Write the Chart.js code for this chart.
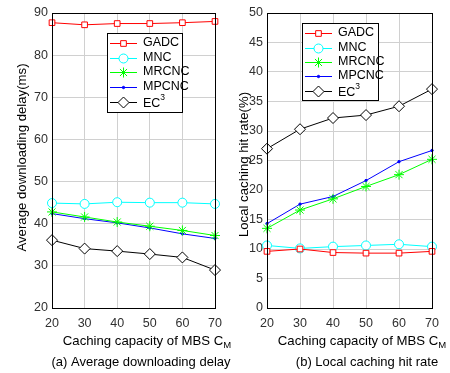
<!DOCTYPE html>
<html>
<head>
<meta charset="utf-8">
<script src="https://cdn.jsdelivr.net/npm/chart.js@4"></script>
<style>
  body { margin: 0; background: #fff; }
  .pane { position: absolute; top: 0; height: 373px; }
  canvas { display: block; }
</style>
</head>
<body>
<div class="pane" style="left:0;width:245px"><canvas id="delayChart" width="245" height="373"></canvas></div>
<div class="pane" style="left:225px;width:225px"><canvas id="hitChart" width="225" height="373"></canvas></div>
<script>
const capacity = ['20', '30', '40', '50', '60', '70'];
const methods = ['GADC', 'MNC', 'MRCNC', 'MPCNC', 'EC3'];

// (a) average downloading delay (ms)
const delayGADC  = [87.7, 87.2, 87.5, 87.5, 87.7, 88.0];
const delayMNC   = [44.9, 44.7, 45.1, 45.0, 45.0, 44.7];
const delayMRCNC = [42.8, 41.6, 40.4, 39.4, 38.4, 37.2];
const delayMPCNC = [42.4, 41.2, 40.2, 39.0, 37.6, 36.5];
const delayEC3   = [36.1, 34.1, 33.5, 32.8, 32.0, 29.0];

// (b) local caching hit rate (%)
const hitGADC  = [9.6, 10.0, 9.4, 9.3, 9.3, 9.6];
const hitMNC   = [10.6, 10.1, 10.4, 10.6, 10.8, 10.4];
const hitMRCNC = [13.5, 16.6, 18.5, 20.6, 22.6, 25.2];
const hitMPCNC = [14.3, 17.6, 18.9, 21.6, 24.8, 26.7];
const hitEC3   = [27.0, 30.3, 32.2, 32.7, 34.2, 37.1];

const delayTicks = [20, 90, 10];
const hitTicks = [0, 50, 5];

const FONT = "'Liberation Sans', Arial, sans-serif";
const styles = [
  { color: '#ff0000', pointStyle: 'rect', radius: 4, fill: '#ffffff' },
  { color: '#00ffff', pointStyle: 'circle', radius: 4.5, fill: '#ffffff' },
  { color: '#00ff00', pointStyle: 'star', radius: 5, fill: '#ffffff' },
  { color: '#0000ff', pointStyle: 'circle', radius: 1.2, fill: '#0000ff' },
  { color: '#000000', pointStyle: 'rectRot', radius: 5.5, fill: '#ffffff' }
];

function buildDatasets(series) {
  return series.map((vals, i) => ({
    label: methods[i],
    data: vals,
    borderColor: styles[i].color,
    backgroundColor: styles[i].fill,
    pointStyle: styles[i].pointStyle,
    pointRadius: styles[i].radius,
    pointBorderColor: styles[i].color,
    pointBackgroundColor: styles[i].fill,
    pointBorderWidth: 1,
    borderWidth: 1,
    tension: 0
  }));
}

function drawSubText(ctx, main, sub, x, y, size, shift) {
  ctx.font = size + 'px ' + FONT;
  const w1 = ctx.measureText(main).width;
  ctx.font = (size * 0.72) + 'px ' + FONT;
  const w2 = ctx.measureText(sub).width;
  const start = x - (w1 + w2) / 2;
  ctx.textAlign = 'left';
  ctx.font = size + 'px ' + FONT;
  ctx.fillText(main, start, y);
  ctx.font = (size * 0.72) + 'px ' + FONT;
  ctx.fillText(sub, start + w1, y + shift);
}

const deco = {
  id: 'deco',
  afterDraw(chart, args, o) {
    const ctx = chart.ctx;
    const a = chart.chartArea;
    ctx.save();
    // axes box
    ctx.strokeStyle = '#000';
    ctx.lineWidth = 1;
    ctx.strokeRect(Math.round(a.left) + 0.5, Math.round(a.top) + 0.5,
                   Math.round(a.right - a.left), Math.round(a.bottom - a.top));

    // legend
    const L = o.legend;
    ctx.fillStyle = '#fff';
    ctx.fillRect(L.x, L.y, L.w, L.h);
    ctx.strokeRect(L.x + 0.5, L.y + 0.5, L.w, L.h);
    chart.data.datasets.forEach((ds, i) => {
      const y = L.rows[i];
      ctx.strokeStyle = ds.borderColor;
      ctx.lineWidth = 1;
      ctx.beginPath();
      ctx.moveTo(L.x + 3, y + 0.5);
      ctx.lineTo(L.x + 30, y + 0.5);
      ctx.stroke();
      ctx.fillStyle = ds.pointBackgroundColor;
      Chart.helpers.drawPoint(ctx, {
        pointStyle: ds.pointStyle, radius: ds.pointRadius, borderWidth: 1, rotation: 0
      }, L.x + 16.5, y + 0.5);
      ctx.fillStyle = '#000';
      ctx.textBaseline = 'middle';
      ctx.textAlign = 'left';
      ctx.font = '12.5px ' + FONT;
      if (ds.label === 'EC3') {
        ctx.fillText('EC', L.x + 36, y + 2);
        const w = ctx.measureText('EC').width;
        ctx.font = '8.5px ' + FONT;
        ctx.fillText('3', L.x + 36 + w, y - 4);
      } else {
        ctx.fillText(ds.label, L.x + 36, y);
      }
    });

    // axis titles
    ctx.fillStyle = '#000';
    ctx.textBaseline = 'middle';
    ctx.save();
    ctx.translate(o.yTitleX, (a.top + a.bottom) / 2 + o.yTitleDy);
    ctx.rotate(-Math.PI / 2);
    ctx.textAlign = 'center';
    ctx.font = '13.2px ' + FONT;
    ctx.fillText(o.yTitle, 0, 0);
    ctx.restore();

    drawSubText(ctx, 'Caching capacity of MBS C', 'M', o.xTitleX, 341, 13.2, 4);

    ctx.textAlign = 'center';
    ctx.font = '13px ' + FONT;
    ctx.fillText(o.caption, o.captionX, 362);
    ctx.restore();
  }
};

function makeChart(id, series, ticks, pad, deco) {
  return new Chart(document.getElementById(id), {
    type: 'line',
    data: { labels: capacity, datasets: buildDatasets(series) },
    plugins: [deco],
    options: {
      responsive: false,
      animation: false,
      layout: { padding: { top: 13, right: pad.right, left: 0, bottom: 0 } },
      scales: {
        x: {
          offset: false,
          grid: { color: '#d0d0d0', drawTicks: false, offset: false },
          border: { display: false },
          ticks: { color: '#303030', padding: 8, font: { family: FONT, size: 12.5 } },
          afterFit(s) { s.height = 65; }
        },
        y: {
          min: ticks[0], max: ticks[1],
          grid: { color: '#d0d0d0', drawTicks: false },
          border: { display: false },
          ticks: { stepSize: ticks[2], color: '#303030', padding: 4, font: { family: FONT, size: 12.5 } },
          afterFit(s) { s.width = pad.left; }
        }
      },
      plugins: { legend: { display: false }, tooltip: { enabled: false }, deco: deco.opts }
    }
  });
}

makeChart('delayChart',
  [delayGADC, delayMNC, delayMRCNC, delayMPCNC, delayEC3],
  delayTicks, { left: 52, right: 30 },
  Object.assign({}, deco, { opts: {
    legend: { x: 107, y: 33, w: 75, h: 79, rows: [43, 58, 72, 87, 102] },
    yTitle: 'Average downloading delay(ms)', yTitleX: 22, yTitleDy: -3,
    xTitleX: 147, caption: '(a) Average downloading delay', captionX: 141
  }}));

makeChart('hitChart',
  [hitGADC, hitMNC, hitMRCNC, hitMPCNC, hitEC3],
  hitTicks, { left: 42, right: 18 },
  Object.assign({}, deco, { opts: {
    legend: { x: 77, y: 23, w: 76, h: 77, rows: [33, 48, 62, 76, 91] },
    yTitle: 'Local caching hit rate(%)', yTitleX: 19, yTitleDy: 4,
    xTitleX: 137, caption: '(b) Local caching hit rate', captionX: 142
  }}));
</script>
</body>
</html>
